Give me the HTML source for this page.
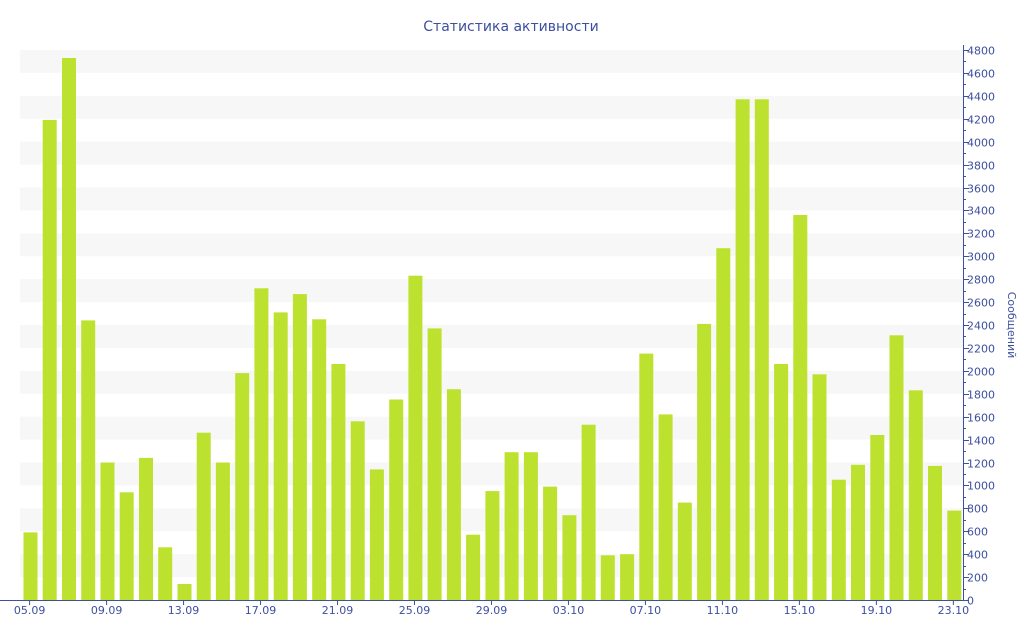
<!DOCTYPE html>
<html><head><meta charset="utf-8"><style>body{margin:0;background:#fff}svg{display:block}</style></head>
<body>
<svg id="c" width="1024" height="640" xmlns="http://www.w3.org/2000/svg" font-family="DejaVu Sans, Liberation Sans, sans-serif">
<text x="511" y="31" text-anchor="middle" font-size="14" fill="#3d4f9f">Статистика активности</text>
<text transform="translate(1008,325) rotate(90)" text-anchor="middle" font-size="11" fill="#3d4f9f">Сообщений</text>
<g id="g"></g>
</svg>
<script>
var v=[590,4190,4730,2440,1200,940,1240,460,140,1460,1200,1980,2720,2510,2670,2450,2060,1560,1140,1750,2830,2370,1840,570,950,1290,1290,990,740,1530,390,400,2150,1620,850,2410,3070,4370,4370,2060,3360,1970,1050,1180,1440,2310,1830,1170,780];
var s='',X0=20,X1=963,Y0=600,k=550/4800,p=(X1-X0)/49;
for(var i=0;i<12;i++){var y=Y0-(i*400+400)*k;s+='<rect x="20" y="'+y+'" width="943" height="'+(200*k)+'" fill="#f7f7f7"/>';}
v.forEach(function(d,i){var x=X0+i*p+3.5,h=d*k;s+='<rect x="'+x.toFixed(1)+'" y="'+(Y0-h).toFixed(1)+'" width="14" height="'+h.toFixed(1)+'" fill="#bce22f"/>';});
s+='<line x1="0" y1="600.5" x2="964" y2="600.5" stroke="#3d4f9f"/>';
s+='<line x1="963.5" y1="45" x2="963.5" y2="601" stroke="#3d4f9f"/>';
for(var t=0;t<=4800;t+=100){var y=Math.round(Y0-t*k)+0.5;var big=t%200==0;s+='<line x1="963" y1="'+y+'" x2="'+(big?969:966)+'" y2="'+y+'" stroke="#3d4f9f"/>';if(big)s+='<text x="967" y="'+(y+4)+'" font-size="11" fill="#3d4f9f">'+t+'</text>';}
var lab=['05.09','09.09','13.09','17.09','21.09','25.09','29.09','03.10','07.10','11.10','15.10','19.10','23.10'];
lab.forEach(function(l,j){var x=X0+j*4*p+9.6;s+='<line x1="'+x+'" y1="601" x2="'+x+'" y2="605" stroke="#3d4f9f"/><text x="'+x+'" y="614" text-anchor="middle" font-size="11" fill="#3d4f9f">'+l+'</text>';});
document.getElementById('g').innerHTML=s;
</script>
</body></html>
